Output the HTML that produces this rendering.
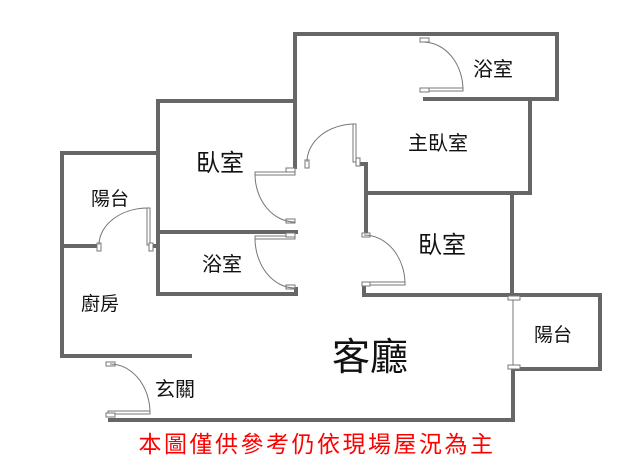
<!DOCTYPE html>
<html><head><meta charset="utf-8"><style>
html,body{margin:0;padding:0;background:#fff;}
svg{display:block;}
text{font-family:"Liberation Sans","Noto Sans CJK TC",sans-serif;fill:#111;}
</style></head><body>
<svg width="640" height="461" viewBox="0 0 640 461" xmlns="http://www.w3.org/2000/svg">
<g stroke="#666" stroke-width="4" fill="none" stroke-linecap="square">
<polyline points="295,167 295,34 557,34 557,99 425,99"/>
<polyline points="530,99 530,193 366,193"/>
<polyline points="358,164 366,164 366,233"/>
<polyline points="512,193 512,295"/>
<polyline points="364,285 364,295 600,295 600,369 513,369 513,420 110,420"/>
<polyline points="295,101 158,101 158,294 296,294 296,289"/>
<polyline points="158,232 296,232"/>
<polyline points="158,153 62,153 62,356 190,356"/>
<polyline points="62,246 96,246"/>
<line x1="152" y1="246" x2="158" y2="246"/>
</g>
<g stroke="#777" stroke-width="1" fill="#fff">
<line x1="513" y1="298" x2="513" y2="366"/>
<rect x="508" y="296" width="12" height="4"/>
<rect x="508" y="365" width="12" height="4"/>
<rect x="255" y="172" width="40" height="3"/>
<rect x="286" y="168" width="9" height="4"/>
<rect x="286" y="219" width="9" height="4"/>
<path d="M255,174 A40,48 0 0 0 295,222" fill="none"/>
<rect x="255" y="236" width="40" height="3"/>
<rect x="286" y="233" width="9" height="4"/>
<rect x="286" y="285" width="9" height="4"/>
<path d="M255,238 A40,50 0 0 0 295,288" fill="none"/>
<rect x="353" y="124" width="3" height="38"/>
<rect x="305" y="160" width="4" height="8"/>
<rect x="356" y="158" width="4" height="8"/>
<path d="M355,124 A48,38 0 0 0 307,162" fill="none"/>
<rect x="364" y="282" width="41" height="3"/>
<rect x="362" y="233" width="8" height="4"/>
<rect x="362" y="282" width="8" height="4"/>
<path d="M364,235 A41,49 0 0 1 405,284" fill="none"/>
<rect x="423" y="88" width="40" height="3"/>
<rect x="420" y="38" width="9" height="4"/>
<rect x="420" y="88" width="9" height="4"/>
<path d="M423,42 A40,48 0 0 1 463,90" fill="none"/>
<rect x="147" y="208" width="3" height="37"/>
<rect x="97" y="243" width="4" height="8"/>
<rect x="149" y="243" width="4" height="8"/>
<path d="M148,208 A49,37 0 0 0 99,245" fill="none"/>
<rect x="108" y="411" width="42" height="3"/>
<rect x="106" y="362" width="9" height="4"/>
<rect x="106" y="413" width="9" height="4"/>
<path d="M110,364 A40,49 0 0 1 150,413" fill="none"/>
</g>
<g text-anchor="middle">
<text x="493" y="76" font-size="20">浴室</text>
<text x="438" y="150" font-size="20">主臥室</text>
<text x="220" y="171" font-size="24">臥室</text>
<text x="110" y="205" font-size="19">陽台</text>
<text x="222" y="271" font-size="20">浴室</text>
<text x="442" y="253" font-size="24">臥室</text>
<text x="100" y="310" font-size="19">廚房</text>
<text x="370" y="370" font-size="38">客廳</text>
<text x="553" y="341" font-size="19">陽台</text>
<text x="175" y="396" font-size="20">玄關</text>
<text x="317" y="452" font-size="23" letter-spacing="2.5" style="fill:#f00">本圖僅供參考仍依現場屋況為主</text>
</g>
</svg>
</body></html>
